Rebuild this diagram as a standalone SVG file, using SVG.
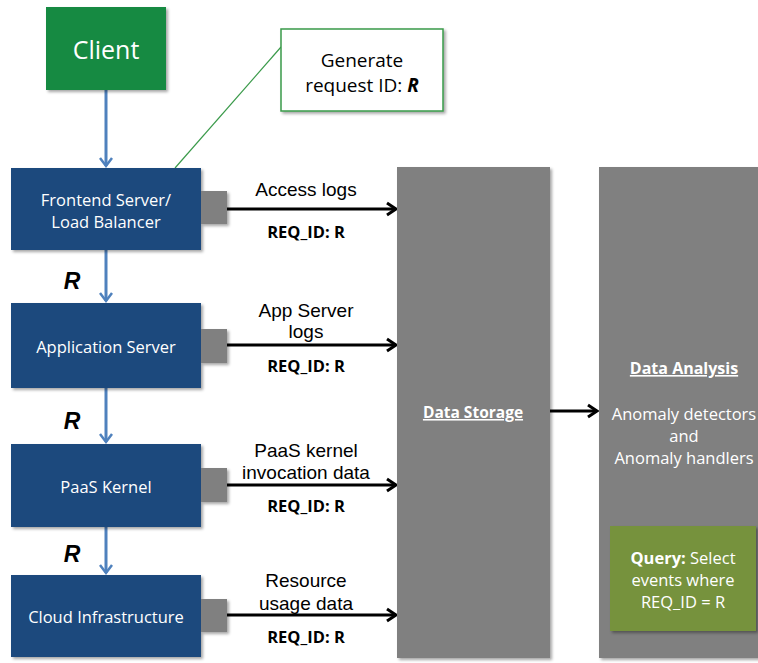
<svg xmlns="http://www.w3.org/2000/svg" width="758" height="663" viewBox="0 0 758 663">
<defs>
<filter id="sh" x="-10%" y="-10%" width="130%" height="130%">
<feDropShadow dx="2" dy="2" stdDeviation="1.5" flood-color="#000" flood-opacity="0.35"/>
</filter>
<marker id="ab" markerUnits="userSpaceOnUse" markerWidth="16" markerHeight="16" refX="11" refY="7" orient="auto" viewBox="0 0 16 14">
<path d="M2,1 L11,7 L2,13" fill="none" stroke="#000" stroke-width="3"/>
</marker>
<marker id="ablue" markerUnits="userSpaceOnUse" markerWidth="16" markerHeight="16" refX="10" refY="7" orient="auto" viewBox="0 0 16 14">
<path d="M2,1 L10,7 L2,13" fill="none" stroke="#4f81bd" stroke-width="2.5"/>
</marker>
</defs>
<style>
.node{fill:#1f497d;filter:url(#sh)}
.port{fill:#808080;filter:url(#sh)}
.big{fill:#808080;filter:url(#sh)}
.nt{font-family:"Open Sans","Noto Sans",sans-serif;font-size:16.5px;fill:#fff;text-anchor:middle}
.lbl{font-family:"Liberation Sans",Arial,sans-serif;font-size:19px;fill:#000;text-anchor:middle}
.req{font-family:"Open Sans","Noto Sans",sans-serif;font-size:16.5px;font-weight:bold;fill:#000;text-anchor:middle}
.r{font-family:"Liberation Sans",Arial,sans-serif;font-size:23px;font-weight:bold;font-style:italic;fill:#000;text-anchor:middle}
.blue{stroke:#4f81bd;stroke-width:3;fill:none;marker-end:url(#ablue)}
.blk{stroke:#000;stroke-width:3;fill:none;marker-end:url(#ab)}
.wt{font-family:"Open Sans","Noto Sans",sans-serif;fill:#fff;text-anchor:middle}
</style>
<rect width="758" height="663" fill="#fff"/>

<g id="connectors">
<line class="blue" x1="106" y1="90" x2="106" y2="166"/>
<line class="blue" x1="106" y1="250" x2="106" y2="301"/>
<line class="blue" x1="106" y1="388" x2="106" y2="442"/>
<line class="blue" x1="106" y1="527" x2="106" y2="573"/>
<line x1="175" y1="168" x2="281" y2="47" stroke="#3a9a4a" stroke-width="1.2"/>
<line class="blk" x1="227" y1="209" x2="396" y2="209"/>
<line class="blk" x1="227" y1="345" x2="396" y2="345"/>
<line class="blk" x1="227" y1="485" x2="396" y2="485"/>
<line class="blk" x1="227" y1="615" x2="396" y2="615"/>
<line class="blk" x1="550" y1="411" x2="597" y2="411"/>
<text class="lbl" x="306" y="196">Access logs</text>
<text class="req" x="306" y="238">REQ_ID: R</text>
<text class="lbl" x="306" y="317">App Server</text>
<text class="lbl" x="306" y="338">logs</text>
<text class="req" x="306" y="372">REQ_ID: R</text>
<text class="lbl" x="306" y="457">PaaS kernel</text>
<text class="lbl" x="306" y="479">invocation data</text>
<text class="req" x="306" y="512">REQ_ID: R</text>
<text class="lbl" x="306" y="587">Resource</text>
<text class="lbl" x="306" y="610">usage data</text>
<text class="req" x="306" y="643">REQ_ID: R</text>
<text class="r" x="72" y="289">R</text>
<text class="r" x="72" y="429">R</text>
<text class="r" x="72" y="562">R</text>
</g>

<g id="client">
<rect x="46" y="7" width="120" height="83" fill="#178a43" filter="url(#sh)"/>
<text class="wt" x="106" y="59" font-size="25">Client</text>
</g>

<g id="generate">
<rect x="281" y="29" width="162" height="82" fill="#fff" stroke="#3a9a4a" stroke-width="1.5" filter="url(#sh)"/>
<text font-family="Open Sans, Noto Sans, sans-serif" font-size="19" fill="#000" text-anchor="middle" x="362" y="67">Generate</text>
<text font-family="Open Sans, Noto Sans, sans-serif" font-size="19" fill="#000" text-anchor="middle" x="362" y="92">request ID: <tspan font-weight="bold" font-style="italic">R</tspan></text>
</g>

<g id="frontend">
<rect class="node" x="11" y="168" width="190" height="82"/>
<rect class="port" x="201" y="191" width="26" height="33"/>
<text class="nt" x="106" y="206">Frontend Server/</text>
<text class="nt" x="106" y="228">Load Balancer</text>
</g>

<g id="appserver">
<rect class="node" x="11" y="303" width="190" height="85"/>
<rect class="port" x="201" y="329" width="26" height="34"/>
<text class="nt" x="106" y="353">Application Server</text>
</g>

<g id="paas">
<rect class="node" x="11" y="444" width="190" height="83"/>
<rect class="port" x="201" y="468" width="26" height="34"/>
<text class="nt" x="106" y="493">PaaS Kernel</text>
</g>

<g id="cloud">
<rect class="node" x="11" y="575" width="190" height="82"/>
<rect class="port" x="201" y="599" width="26" height="33"/>
<text class="nt" x="106" y="623">Cloud Infrastructure</text>
</g>

<g id="storage">
<rect class="big" x="397" y="167" width="153" height="491"/>
<text class="wt" x="473" y="418" font-size="15.5" font-weight="bold" text-decoration="underline">Data Storage</text>
</g>

<g id="analysis">
<rect class="big" x="599" y="167" width="162" height="491"/>
<text class="wt" x="684" y="374" font-size="16" font-weight="bold" text-decoration="underline">Data Analysis</text>
<text class="wt" x="684" y="420" font-size="16.5">Anomaly detectors</text>
<text class="wt" x="684" y="442" font-size="16.5">and</text>
<text class="wt" x="684" y="464" font-size="16.5">Anomaly handlers</text>
</g>

<g id="query">
<rect x="610" y="526" width="146" height="105" fill="#76923c" filter="url(#sh)"/>
<text class="wt" x="683" y="564" font-size="16.5"><tspan font-weight="bold">Query:</tspan> Select</text>
<text class="wt" x="683" y="586" font-size="16.5">events where</text>
<text class="wt" x="683" y="608" font-size="16.5">REQ_ID = R</text>
</g>
</svg>
